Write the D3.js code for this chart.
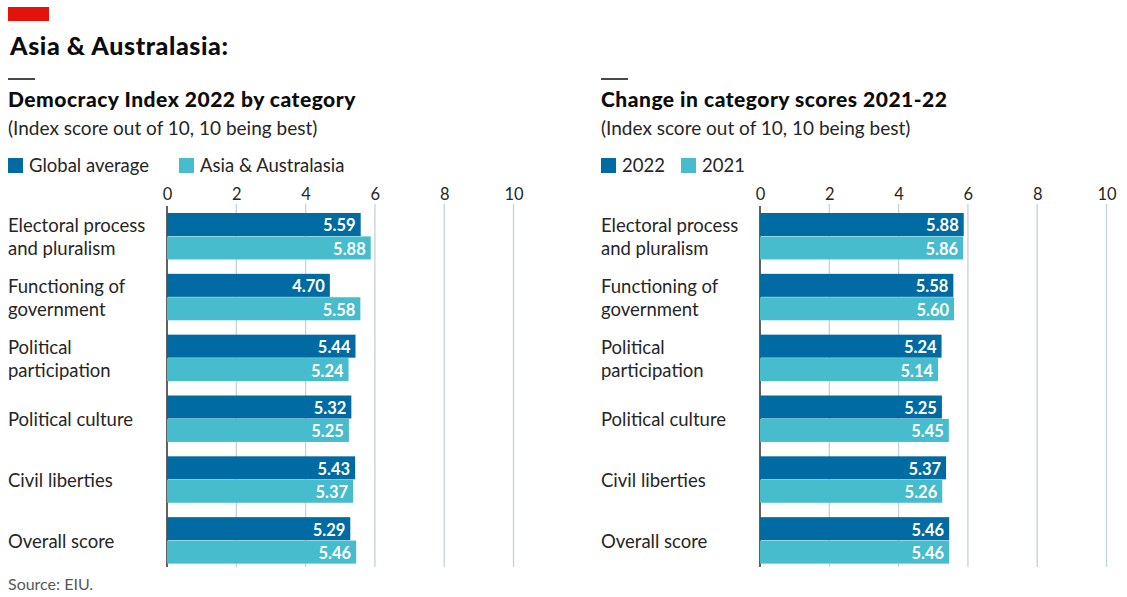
<!DOCTYPE html>
<html>
<head>
<meta charset="utf-8">
<script src="https://cdn.jsdelivr.net/npm/d3@7"></script>
<style>
body{margin:0;background:#fff;}
text{font-family:Lato,"Open Sans",sans-serif;}
</style>
</head>
<body>
<div id="chart"></div>
<script>
let w=1127;
let h=597;

let categories=["Electoral process|and pluralism","Functioning of|government","Political|participation","Political culture","Civil liberties","Overall score"];
let globalAvg=[5.59,4.70,5.44,5.32,5.43,5.29];
let asiaAus=[5.88,5.58,5.24,5.25,5.37,5.46];
let asia2022=[5.88,5.58,5.24,5.25,5.37,5.46];
let asia2021=[5.86,5.60,5.14,5.45,5.26,5.46];
let ticks=[0,2,4,6,8,10];

let dark="#006ba2";
let light="#46bccd";

let svg=d3.select("#chart").append("svg")
  .attr("width",w)
  .attr("height",h);

// header
svg.append("rect").attr("x",8).attr("y",7).attr("width",41).attr("height",14).attr("fill","#e3120b");
svg.append("text").text("Asia & Australasia:")
  .attr("x",10).attr("y",55)
  .style("font-size","25px").style("letter-spacing","0.6px").style("font-weight","900").attr("fill","#0c0c0c");

svg.append("text").text("Source: EIU.")
  .attr("x",8).attr("y",590)
  .style("font-size","16px").attr("fill","#595959");

let y=d3.scaleBand().domain(categories).range([206,571]).paddingInner(0.23).paddingOuter(0.115);

function panel(x0,title,legend,s1,s2){
  let g=svg.append("g");
  let x=d3.scaleLinear().domain([0,10]).range([x0,x0+346.5]);
  let lx=x0-159;

  g.append("line").attr("x1",lx).attr("x2",lx+27).attr("y1",79).attr("y2",79)
    .attr("stroke","#0c0c0c").attr("stroke-width",1.5);
  g.append("text").text(title).attr("x",lx).attr("y",107)
    .style("font-size","21px").style("letter-spacing","0.5px").style("font-weight","900").attr("fill","#0c0c0c");
  g.append("text").text("(Index score out of 10, 10 being best)").attr("x",lx).attr("y",135)
    .style("font-size","19px").attr("fill","#262626");

  // legend
  let lg=g.selectAll(".lg").data(legend).enter().append("g")
    .attr("transform",function(d,i){return "translate("+(lx+d.dx)+",158)";});
  lg.append("rect").attr("width",15).attr("height",15).attr("fill",function(d){return d.c;});
  lg.append("text").text(function(d){return d.t;}).attr("x",21).attr("y",14)
    .style("font-size","18.5px").attr("fill","#262626");

  // grid
  g.selectAll(".grid").data(ticks.slice(1)).enter().append("line")
    .attr("x1",function(d){return x(d);}).attr("x2",function(d){return x(d);})
    .attr("y1",204).attr("y2",567)
    .attr("stroke","#c4d2d9").attr("stroke-width",1.3);

  let axis=d3.axisTop(x).tickValues(ticks).tickSize(0).tickPadding(0);
  let ag=g.append("g").attr("transform","translate(0,200)").call(axis);
  ag.select(".domain").remove();
  ag.selectAll("text").style("font-size","16.5px").style("font-family","Lato,'Open Sans',sans-serif").attr("fill","#262626");

  g.append("line").attr("x1",x(0)).attr("x2",x(0)).attr("y1",206).attr("y2",567)
    .attr("stroke","#0c0c0c").attr("stroke-width",1.3);

  let bh=y.bandwidth()/2;
  let series=[{v:s1,c:dark,o:0},{v:s2,c:light,o:bh}];
  series.forEach(function(s){
    let bars=g.selectAll(null).data(categories).enter();
    bars.append("rect")
      .attr("x",x(0)).attr("y",function(d){return y(d)+s.o;})
      .attr("width",function(d,i){return x(s.v[i])-x(0);})
      .attr("height",bh-0.4)
      .attr("fill",s.c);
    bars.append("text")
      .text(function(d,i){return s.v[i].toFixed(2);})
      .attr("x",function(d,i){return x(s.v[i])-5;})
      .attr("y",function(d){return y(d)+s.o+bh-5;})
      .attr("text-anchor","end")
      .style("font-size","16.5px").style("font-weight","700").attr("fill","#fff");
  });

  // category labels
  let cl=g.selectAll(".cl").data(categories).enter().append("text")
    .attr("x",lx)
    .style("font-size","18.5px").attr("fill","#262626");
  cl.each(function(d){
    let parts=d.split("|");
    let mid=y(d)+y.bandwidth()/2;
    let t=d3.select(this);
    parts.forEach(function(p,k){
      t.append("tspan").attr("x",lx)
        .attr("y",mid+7+(k-(parts.length-1)/2)*23)
        .text(p);
    });
  });
}

panel(167,"Democracy Index 2022 by category",
  [{t:"Global average",c:dark,dx:0},{t:"Asia & Australasia",c:light,dx:171}],
  globalAvg,asiaAus);
panel(760,"Change in category scores 2021-22",
  [{t:"2022",c:dark,dx:0},{t:"2021",c:light,dx:80}],
  asia2022,asia2021);
</script>
</body>
</html>
